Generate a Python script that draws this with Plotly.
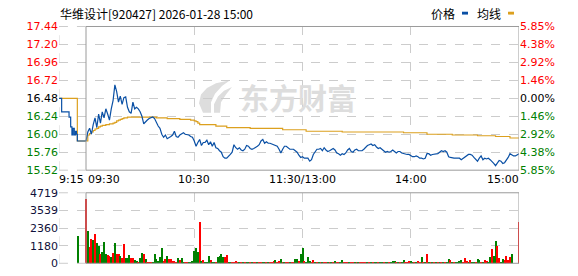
import plotly.graph_objects as go

# ---------------- data ----------------
prev_close = 16.48
price_ticks = [15.52, 15.76, 16.00, 16.24, 16.48, 16.72, 16.96, 17.20, 17.44]
pct_labels = ["5.85%", "4.38%", "2.92%", "1.46%", "0.00%", "1.46%", "2.92%", "4.38%", "5.85%"]
vol_ticks = [0, 1180, 2360, 3539, 4719]

# pre-market auction (minutes after 9:15)
pre_t = [0, 1.5, 5.6, 6.5, 7.2, 7.8, 8.5, 9.2, 9.7, 10.2, 15]
pre_price = [16.48, 16.30, 16.23, 16.10, 15.99, 16.08, 15.99, 16.04, 16.00, 15.91, 15.91]
pre_avg_t = [0, 10.2, 15]
pre_avg = [16.48, 15.91, 15.91]
pre_vol_t = [10.5]
pre_vol = [1850]

# trading minutes 09:30 .. 11:30 / 13:01 .. 15:00
price = [
    15.91, 16.03, 16.08, 16.00, 16.13, 16.22, 16.09, 16.27, 16.15, 16.30,
    16.22, 16.34, 16.27, 16.19, 16.34, 16.45, 16.66, 16.57, 16.43, 16.51,
    16.40, 16.49, 16.50, 16.36, 16.30, 16.28, 16.43, 16.34, 16.36, 16.34,
    16.30, 16.24, 16.14, 16.17, 16.19, 16.21, 16.22, 16.23, 16.21, 16.15,
    16.11, 16.08, 16.00, 15.96, 15.99, 15.94, 15.95, 15.97, 15.99, 16.04,
    15.97, 15.96, 15.99, 16.00, 16.02, 16.00, 16.00, 15.99, 15.97, 15.96,
    15.91, 15.84, 15.89, 15.93, 15.85, 15.89, 15.89, 15.92, 15.86, 15.90,
    15.84, 15.89, 15.82, 15.81, 15.78, 15.76, 15.70, 15.68, 15.68, 15.70,
    15.73, 15.76, 15.86, 15.82, 15.80, 15.82, 15.79, 15.78, 15.80, 15.85,
    15.84, 15.81, 15.80, 15.81, 15.82, 15.84, 15.86, 15.91, 15.93, 15.88,
    15.90, 15.88, 15.88, 15.87, 15.86, 15.86, 15.84, 15.80, 15.75, 15.80,
    15.84, 15.84, 15.82, 15.80, 15.80, 15.80, 15.78, 15.76, 15.72, 15.69,
    15.70, 15.68, 15.68, 15.68, 15.64, 15.66, 15.73, 15.76, 15.80, 15.80,
    15.81, 15.78, 15.82, 15.79, 15.77, 15.78, 15.79, 15.81, 15.79, 15.75,
    15.74, 15.72, 15.74, 15.73, 15.75, 15.79, 15.81, 15.77, 15.76, 15.79,
    15.80, 15.78, 15.78, 15.78, 15.80, 15.83, 15.85, 15.86, 15.87, 15.85,
    15.86, 15.83, 15.81, 15.82, 15.80, 15.79, 15.76, 15.77, 15.76, 15.77,
    15.79, 15.77, 15.75, 15.77, 15.77, 15.75, 15.74, 15.73, 15.73, 15.73,
    15.71, 15.70, 15.70, 15.71, 15.70, 15.68, 15.68, 15.67, 15.68, 15.74,
    15.74, 15.72, 15.73, 15.73, 15.73, 15.74, 15.76, 15.78, 15.77, 15.78,
    15.76, 15.70, 15.69, 15.68, 15.68, 15.68, 15.68, 15.68, 15.66, 15.68,
    15.70, 15.72, 15.73, 15.73, 15.72, 15.69, 15.67, 15.64, 15.68, 15.71,
    15.66, 15.68, 15.67, 15.68, 15.66, 15.64, 15.61, 15.58, 15.62, 15.65,
    15.64, 15.61, 15.62, 15.65, 15.69, 15.74, 15.72, 15.71, 15.71, 15.73,
    15.74,
]
avg = [
    15.91, 15.99, 16.01, 16.03, 16.05, 16.07, 16.08, 16.10, 16.11, 16.12,
    16.12, 16.13, 16.13, 16.14, 16.14, 16.15, 16.16, 16.18, 16.19, 16.20,
    16.21, 16.22, 16.22, 16.23, 16.23, 16.23, 16.23, 16.23, 16.23, 16.23,
    16.23, 16.23, 16.23, 16.23, 16.23, 16.23, 16.23, 16.23, 16.23, 16.22,
    16.22, 16.22, 16.22, 16.22, 16.22, 16.21, 16.21, 16.21, 16.21, 16.21,
    16.21, 16.21, 16.20, 16.20, 16.20, 16.20, 16.20, 16.20, 16.19, 16.19,
    16.18, 16.17, 16.15, 16.13, 16.13, 16.13, 16.13, 16.13, 16.13, 16.13,
    16.13, 16.13, 16.11, 16.11, 16.11, 16.11, 16.11, 16.11, 16.09, 16.09,
    16.09, 16.09, 16.09, 16.09, 16.09, 16.09, 16.09, 16.09, 16.09, 16.09,
    16.09, 16.08, 16.08, 16.08, 16.08, 16.08, 16.08, 16.08, 16.08, 16.08,
    16.08, 16.08, 16.08, 16.08, 16.08, 16.08, 16.08, 16.08, 16.08, 16.06,
    16.06, 16.06, 16.06, 16.06, 16.06, 16.06, 16.06, 16.06, 16.06, 16.06,
    16.06, 16.06, 16.04, 16.04, 16.04, 16.04, 16.04, 16.04, 16.04, 16.04,
    16.04, 16.04, 16.04, 16.04, 16.04, 16.04, 16.04, 16.04, 16.04, 16.04,
    16.04, 16.04, 16.03, 16.03, 16.03, 16.03, 16.03, 16.03, 16.03, 16.03,
    16.03, 16.03, 16.03, 16.03, 16.03, 16.03, 16.03, 16.03, 16.03, 16.03,
    16.03, 16.03, 16.03, 16.03, 16.03, 16.03, 16.03, 16.03, 16.03, 16.03,
    16.03, 16.03, 16.03, 16.03, 16.03, 16.03, 16.02, 16.02, 16.02, 16.02,
    16.02, 16.02, 16.02, 16.02, 16.02, 16.02, 16.02, 16.02, 16.02, 16.00,
    16.00, 16.00, 16.00, 16.00, 16.00, 16.00, 16.00, 16.00, 16.00, 16.00,
    16.00, 16.00, 16.00, 15.99, 15.99, 15.99, 15.99, 15.99, 15.99, 15.99,
    15.99, 15.99, 15.99, 15.99, 15.99, 15.99, 15.99, 15.98, 15.98, 15.98,
    15.98, 15.98, 15.98, 15.98, 15.98, 15.98, 15.98, 15.97, 15.97, 15.97,
    15.97, 15.97, 15.97, 15.97, 15.97, 15.95, 15.95, 15.95, 15.95, 15.95,
    15.95,
]
volume = [
    4318, 2169, 1106, 1659, 1595, 1978, 1340, 1170, 638, 787,
    1446, 638, 595, 531, 425, 702, 1404, 638, 638, 531,
    383, 1276, 383, 362, 574, 383, 362, 255, 170, 85,
    383, 680, 638, 319, 106, 64, 64, 106, 638, 319,
    170, 468, 1021, 170, 276, 531, 298, 298, 149, 149,
    106, 362, 255, 362, 106, 85, 64, 64, 64, 191,
    808, 1021, 787, 2807, 149, 213, 85, 106, 489, 255,
    85, 64, 64, 425, 531, 638, 425, 425, 574, 85,
    64, 64, 85, 191, 85, 64, 85, 64, 64, 85,
    64, 85, 64, 128, 85, 64, 85, 64, 85, 106,
    64, 64, 85, 85, 170, 255, 64, 170, 319, 64,
    64, 85, 64, 64, 85, 85, 276, 276, 170, 638,
    1021, 170, 85, 447, 170, 64, 255, 64, 64, 64,
    85, 64, 64, 64, 106, 64, 64, 64, 149, 64,
    64, 64, 255, 64, 64, 85, 64, 64, 64, 64,
    64, 64, 64, 64, 128, 85, 64, 64, 64, 64,
    64, 64, 64, 85, 64, 64, 64, 64, 64, 64,
    149, 149, 64, 64, 64, 64, 255, 64, 128, 149,
    170, 106, 64, 64, 170, 64, 447, 64, 64, 638,
    106, 64, 64, 64, 64, 64, 64, 64, 64, 64,
    64, 319, 255, 64, 64, 106, 128, 191, 255, 64,
    383, 170, 64, 255, 85, 85, 64, 319, 255, 128,
    64, 255, 170, 64, 447, 957, 531, 1531, 1170, 383,
    106, 319, 255, 531, 255, 425, 638, 0, 0, 0,
    2765,
]
vol_dir = (
    "rgrrgrggrg" "ggrrgrgrrg" "rrgggrrggr" "ggrgrrrggg" "gggrrgrrrr"
    "rgrggrrggg" "gggrgrgggr" "ggrggggrrg" "grrrrgrgrg" "grgrrgrrgg"
    "rgrrrgrrgr" "grrgrrggrg" "grgggrrgrg" "rgrrgrgrgr" "rggrrrgrrg"
    "rgrrrrgrgr" "ggrggrggrg" "ggrgrggrrr" "ggrgrrgrgr" "grgrgrgrgr"
    "ggrgrggggr" "rrgrggrggr" "grrggrggrr" "ggrrrrgggg" "r"
)

# ---------------- styling ----------------
W, H = 578, 276
RED, GREEN, BLACK = "#ff0000", "#008000", "#000000"
BLUE, GOLD = "#0a50a5", "#dca01e"
FRAME, GRID = "#9a9a9a", "#cccccc"
WM = "#dddddd"
FONT = "DejaVu Sans"
CJK = "Noto Sans CJK SC"

t_trade = [15 + i for i in range(len(price))]


def px(x):
    return x / W


def py(y):
    return 1 - y / H


def col(v):
    if v > prev_close + 1e-9:
        return RED
    if v < prev_close - 1e-9:
        return GREEN
    return BLACK


left_text = [f'<span style="color:{col(v)}">{v:.2f}</span>' for v in price_ticks]
right_text = [f'<span style="color:{col(v)}">{s}</span>' for v, s in zip(price_ticks, pct_labels)]

fig = go.Figure()

# volume bars
fig.add_trace(go.Bar(x=pre_vol_t, y=pre_vol, marker_color=GREEN, marker_line_width=0,
                     width=0.6, xaxis="x2", yaxis="y2", hoverinfo="skip"))
fig.add_trace(go.Bar(x=t_trade, y=volume,
                     marker_color=[RED if d == "r" else GREEN for d in vol_dir],
                     marker_line_width=0, width=0.6, xaxis="x2", yaxis="y2", hoverinfo="skip"))

# price & average
fig.add_trace(go.Scatter(x=pre_avg_t, y=pre_avg, mode="lines", line=dict(color=GOLD, width=1.2, shape="hv"),
                         hoverinfo="skip"))
fig.add_trace(go.Scatter(x=t_trade, y=avg, mode="lines", line=dict(color=GOLD, width=1.2, shape="hv"),
                         hoverinfo="skip"))
fig.add_trace(go.Scatter(x=pre_t, y=pre_price, mode="lines", line=dict(color=BLUE, width=1.2, shape="hv"),
                         hoverinfo="skip"))
fig.add_trace(go.Scatter(x=t_trade, y=price, mode="lines", line=dict(color=BLUE, width=1.2),
                         hoverinfo="skip"))
# carrier for right percentage axis
fig.add_trace(go.Scatter(x=[t_trade[0]], y=[prev_close], mode="markers", marker=dict(size=0.1, opacity=0),
                         yaxis="y3", hoverinfo="skip"))

xdom = [px(58.94), px(519)]
common_x = dict(domain=xdom, range=[0, 255], showticklabels=False, ticks="",
                tickvals=[75, 135, 195], showgrid=True, gridcolor=GRID, griddash="dash",
                gridwidth=1, zeroline=False, showline=False, fixedrange=True)

fig.update_layout(
    width=W, height=H, margin=dict(l=0, r=0, t=0, b=0),
    paper_bgcolor="white", plot_bgcolor="white", showlegend=False, bargap=0,
    xaxis=dict(anchor="y", **common_x),
    xaxis2=dict(anchor="y2", matches="x", **common_x),
    yaxis=dict(domain=[py(172.3), py(21.5)], range=[15.52, 17.44], tickvals=price_ticks,
               ticktext=left_text, ticks="", showgrid=True, gridcolor=GRID, griddash="dash",
               zeroline=False, showline=False, tickfont=dict(family=FONT, size=11)),
    yaxis3=dict(overlaying="y", side="right", anchor="x", range=[15.52, 17.44], tickvals=price_ticks,
                ticktext=right_text, ticks="", showgrid=False, zeroline=False, showline=False,
                tickfont=dict(family=FONT, size=11)),
    yaxis2=dict(domain=[py(270), py(196)], range=[0, 4719], tickvals=vol_ticks,
                ticktext=[str(v) for v in vol_ticks], ticks="", showgrid=True, gridcolor=GRID,
                griddash="dash", zeroline=False, showline=False,
                tickfont=dict(family=FONT, size=11, color="#10103a")),
)


def pix_path(pts):
    s = "M " + " L ".join(f"{px(x):.5f},{py(y):.5f}" for x, y in pts) + " Z"
    return s


# frames and edge lines
shapes = []
# watermark logo (swoosh)
shapes.append(dict(type="path", xref="paper", yref="paper", layer="below",
                   path=pix_path([(203, 112), (199, 102), (201, 93), (207, 86), (216, 81), (230, 78),
                                  (222, 84), (215, 92), (211, 101), (211, 112)]),
                   fillcolor=WM, line=dict(width=0)))
shapes.append(dict(type="path", xref="paper", yref="paper", layer="below",
                   path=pix_path([(214, 112), (214, 103), (218, 95), (224, 89), (232, 85),
                                  (226, 93), (221, 101), (220, 112)]),
                   fillcolor=WM, line=dict(width=0)))
for ya in ("y", "y2"):
    shapes.append(dict(type="rect", xref="x", yref=f"{ya} domain", x0=15, x1=255, y0=0, y1=1,
                       line=dict(color=FRAME, width=1), layer="above"))
    shapes.append(dict(type="line", xref="x", yref=f"{ya} domain", x0=0, x1=0, y0=0, y1=1,
                       line=dict(color=GRID, width=1, dash="dash")))
    shapes.append(dict(type="line", xref="x", yref=f"{ya} domain", x0=0, x1=15, y0=1, y1=1,
                       line=dict(color=GRID, width=1, dash="dash")))
    shapes.append(dict(type="line", xref="x", yref=f"{ya} domain", x0=0, x1=15, y0=0, y1=0,
                       line=dict(color=GRID, width=1, dash="dash")))
# legend swatches
shapes.append(dict(type="rect", xref="paper", yref="paper", x0=px(462), x1=px(468), y0=py(9), y1=py(6),
                   fillcolor=BLUE, line=dict(width=0)))
shapes.append(dict(type="rect", xref="paper", yref="paper", x0=px(508), x1=px(514), y0=py(9), y1=py(6),
                   fillcolor=GOLD, line=dict(width=0)))
fig.update_layout(shapes=shapes)

ann = []


def note(text, x, y, xanchor="center", size=11, family=FONT, color=BLACK, weight="normal", **kw):
    ann.append(dict(text=text, x=px(x), y=py(y), xref="paper", yref="paper", xanchor=xanchor,
                    yanchor="middle", showarrow=False,
                    font=dict(family=family, size=size, color=color, weight=weight), **kw))


note("东方财富", 298, 95, size=29, family=CJK, color=WM, weight="bold")
note("华维设计[920427] 2026-01-28 15:00", 58, 8, xanchor="left", size=12, family=CJK)
note("价格", 443, 8, size=12, family=CJK)
note("均线", 489, 8, size=12, family=CJK)
note("9:15", 57, 182, xanchor="left")
note("09:30", 86, 182, xanchor="left")
note("10:30", 194.2, 182)
note("11:30/13:00", 302.5, 182)
note("14:00", 410.7, 182)
note("15:00", 521, 182, xanchor="right")
fig.update_layout(annotations=ann)

fig.write_html("out.html")
